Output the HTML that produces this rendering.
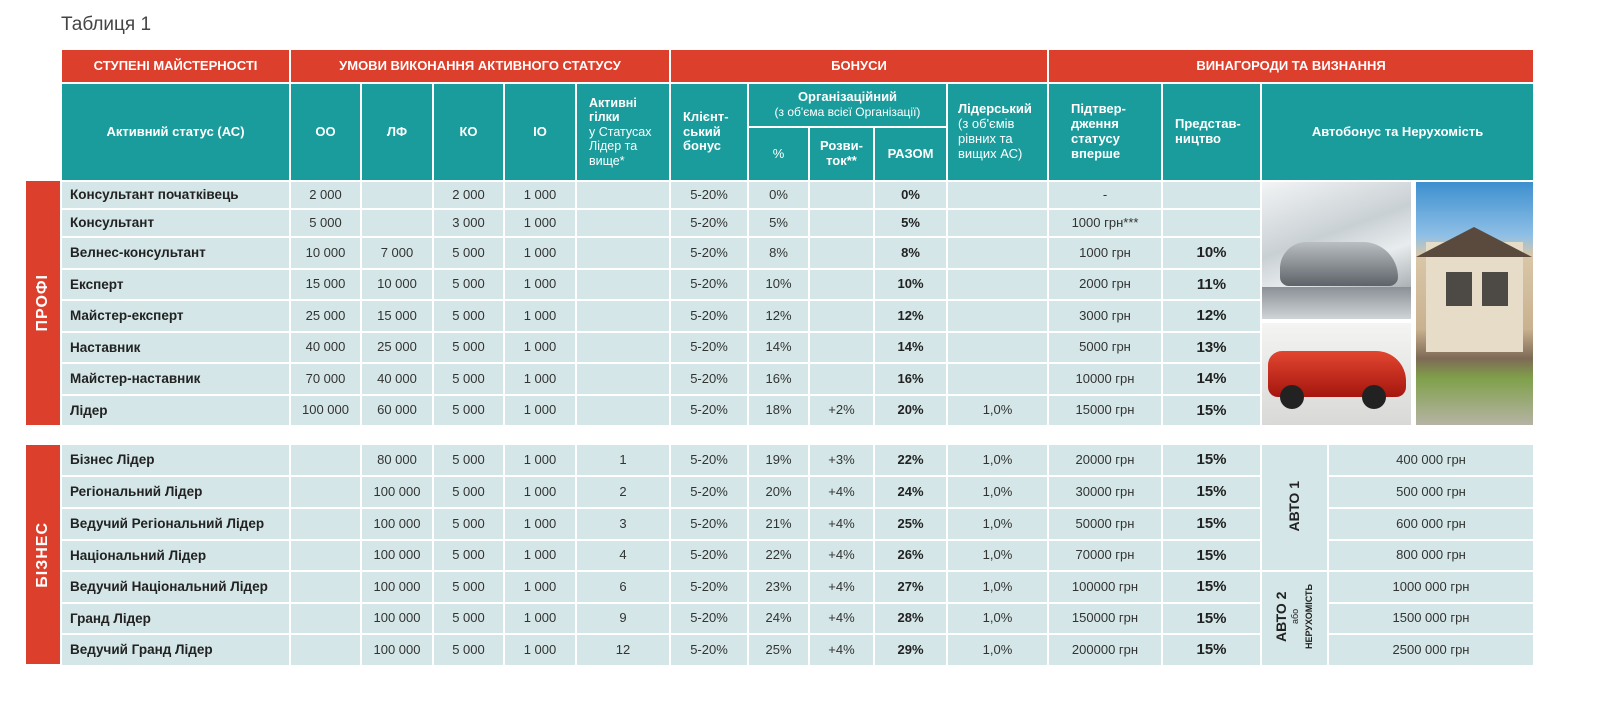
<!DOCTYPE html>
<html><head><meta charset="utf-8"><style>
body{margin:0;width:1600px;height:721px;background:#fff;position:relative;overflow:hidden;font-family:"Liberation Sans","DejaVu Sans",sans-serif;}
.t{position:absolute;left:60px;width:1475px;table-layout:fixed;border-collapse:separate;border-spacing:2px;}
.t td{padding:0;text-align:center;vertical-align:middle;font-size:13px;color:#333;background:#d4e6e7;overflow:hidden;line-height:1.15}
.t td.r{background:#dc3f2b;color:#fff;font-weight:bold;font-size:13px}
.t td.h{background:#1a9c9c;color:#fff;font-weight:bold;font-size:13px}
.t td.n{text-align:left;padding-left:8px;font-weight:bold;color:#222;font-size:13.5px}
.t td.b{font-weight:bold;color:#222}
.t td.p{font-weight:bold;color:#222;font-size:15px}
.t td.w{background:#fff}
.h .l{font-weight:normal}
.side{position:absolute;left:26px;width:34px;background:#dc3f2b;color:#fff;font-weight:bold;font-size:16px;letter-spacing:1px;display:flex;align-items:center;justify-content:center}
.v{writing-mode:vertical-rl;transform:rotate(180deg);display:inline-block}
</style></head><body>
<div style="position:absolute;left:61px;top:14px;font-size:19px;color:#444">Таблиця 1</div>
<div class="side" style="top:181px;height:244px"><span class="v">ПРОФІ</span></div>
<div class="side" style="top:445px;height:219px"><span class="v">БІЗНЕС</span></div>

<table class="t" style="top:48px">
<colgroup><col style="width:227px"><col style="width:69px"><col style="width:70px"><col style="width:69px"><col style="width:70px"><col style="width:92px"><col style="width:76px"><col style="width:59px"><col style="width:63px"><col style="width:71px"><col style="width:99px"><col style="width:112px"><col style="width:97px"><col style="width:65px"><col style="width:204px"></colgroup>
<tr style="height:32px"><td class="r">СТУПЕНІ МАЙСТЕРНОСТІ</td><td class="r" colspan="5">УМОВИ ВИКОНАННЯ АКТИВНОГО СТАТУСУ</td><td class="r" colspan="5">БОНУСИ</td><td class="r" colspan="4">ВИНАГОРОДИ ТА ВИЗНАННЯ</td></tr>
<tr style="height:42px"><td class="h" rowspan="2">Активний статус (АС)</td><td class="h" rowspan="2">ОО</td><td class="h" rowspan="2">ЛФ</td><td class="h" rowspan="2">КО</td><td class="h" rowspan="2">ІО</td>
<td class="h" rowspan="2" style="text-align:left;padding-left:12px;font-size:12.5px">Активні<br>гілки<br><span class="l">у Статусах<br>Лідер та<br>вище*</span></td>
<td class="h" rowspan="2" style="text-align:left;padding-left:12px">Клієнт-<br>ський<br>бонус</td>
<td class="h" colspan="3">Організаційний<br><span class="l" style="font-size:12px">(з об'єма всієї Організації)</span></td>
<td class="h" rowspan="2" style="text-align:left;padding-left:10px;vertical-align:top;padding-top:18px">Лідерський<br><span class="l">(з об'ємів<br>рівних та<br>вищих АС)</span></td>
<td class="h" rowspan="2" style="text-align:left;padding-left:22px">Підтвер-<br>дження<br>статусу<br>вперше</td>
<td class="h" rowspan="2" style="text-align:left;padding-left:12px">Представ-<br>ництво</td>
<td class="h" rowspan="2" colspan="2">Автобонус та Нерухомість</td></tr>
<tr style="height:52px"><td class="h l" style="font-weight:normal">%</td><td class="h">Розви-<br>ток**</td><td class="h">РАЗОМ</td></tr>
<tr style="height:26px"><td class="n">Консультант початківець</td><td>2 000</td><td></td><td>2 000</td><td>1 000</td><td></td><td>5-20%</td><td>0%</td><td></td><td class="b">0%</td><td></td><td>-</td><td></td>
<td colspan="2" rowspan="8" class="w" style="position:relative">
<div style="position:absolute;left:0;top:0;width:149px;height:137px;background:linear-gradient(160deg,#f2f4f5 0%,#c9d0d4 40%,#e8ecee 60%,#7d858a 100%)"><div style="position:absolute;left:18px;top:60px;width:118px;height:44px;border-radius:30px 40px 10px 10px;background:linear-gradient(#b9bec2,#5d6368)"></div><div style="position:absolute;left:0;top:105px;width:149px;height:32px;background:linear-gradient(#8a9196,#cfd4d7)"></div></div>
<div style="position:absolute;left:0;top:141px;width:149px;height:104px;background:linear-gradient(#f4f4f2,#d8d8d6)"><div style="position:absolute;left:6px;top:28px;width:138px;height:46px;border-radius:14px 30px 10px 10px;background:linear-gradient(#e24630,#a5160e)"></div><div style="position:absolute;left:18px;top:62px;width:24px;height:24px;border-radius:50%;background:#222"></div><div style="position:absolute;left:100px;top:62px;width:24px;height:24px;border-radius:50%;background:#222"></div></div>
<div style="position:absolute;left:154px;top:0;width:117px;height:245px;background:linear-gradient(#3d8fcf 0%,#8fc0e6 22%,#d9c7a8 30%,#c9b18f 60%,#7e6a56 72%,#7fa04a 80%,#b8b4a8 100%)"><div style="position:absolute;left:10px;top:60px;width:97px;height:110px;background:#e6dcc8"></div><div style="position:absolute;left:30px;top:90px;width:26px;height:34px;background:#4d4a45"></div><div style="position:absolute;left:66px;top:90px;width:26px;height:34px;background:#4d4a45"></div><div style="position:absolute;left:0;top:45px;width:0;height:0;border-left:58px solid transparent;border-right:58px solid transparent;border-bottom:30px solid #5a4a3e"></div></div>
</td></tr>
<tr style="height:26px"><td class="n">Консультант</td><td>5 000</td><td></td><td>3 000</td><td>1 000</td><td></td><td>5-20%</td><td>5%</td><td></td><td class="b">5%</td><td></td><td>1000 грн***</td><td></td></tr>
<tr style="height:30px"><td class="n">Велнес-консультант</td><td>10 000</td><td>7 000</td><td>5 000</td><td>1 000</td><td></td><td>5-20%</td><td>8%</td><td></td><td class="b">8%</td><td></td><td>1000 грн</td><td class="p">10%</td></tr>
<tr style="height:29px"><td class="n">Експерт</td><td>15 000</td><td>10 000</td><td>5 000</td><td>1 000</td><td></td><td>5-20%</td><td>10%</td><td></td><td class="b">10%</td><td></td><td>2000 грн</td><td class="p">11%</td></tr>
<tr style="height:30px"><td class="n">Майстер-експерт</td><td>25 000</td><td>15 000</td><td>5 000</td><td>1 000</td><td></td><td>5-20%</td><td>12%</td><td></td><td class="b">12%</td><td></td><td>3000 грн</td><td class="p">12%</td></tr>
<tr style="height:29px"><td class="n">Наставник</td><td>40 000</td><td>25 000</td><td>5 000</td><td>1 000</td><td></td><td>5-20%</td><td>14%</td><td></td><td class="b">14%</td><td></td><td>5000 грн</td><td class="p">13%</td></tr>
<tr style="height:30px"><td class="n">Майстер-наставник</td><td>70 000</td><td>40 000</td><td>5 000</td><td>1 000</td><td></td><td>5-20%</td><td>16%</td><td></td><td class="b">16%</td><td></td><td>10000 грн</td><td class="p">14%</td></tr>
<tr style="height:29px"><td class="n">Лідер</td><td>100 000</td><td>60 000</td><td>5 000</td><td>1 000</td><td></td><td>5-20%</td><td>18%</td><td>+2%</td><td class="b">20%</td><td>1,0%</td><td>15000 грн</td><td class="p">15%</td></tr>
</table>

<table class="t" style="top:443px">
<colgroup><col style="width:227px"><col style="width:69px"><col style="width:70px"><col style="width:69px"><col style="width:70px"><col style="width:92px"><col style="width:76px"><col style="width:59px"><col style="width:63px"><col style="width:71px"><col style="width:99px"><col style="width:112px"><col style="width:97px"><col style="width:65px"><col style="width:204px"></colgroup>
<tr style="height:30px"><td class="n">Бізнес Лідер</td><td></td><td>80 000</td><td>5 000</td><td>1 000</td><td>1</td><td>5-20%</td><td>19%</td><td>+3%</td><td class="b">22%</td><td>1,0%</td><td>20000 грн</td><td class="p">15%</td><td rowspan="4" class="b" style="font-size:14px"><span class="v">АВТО 1</span></td><td>400 000 грн</td></tr>
<tr style="height:30px"><td class="n">Регіональний Лідер</td><td></td><td>100 000</td><td>5 000</td><td>1 000</td><td>2</td><td>5-20%</td><td>20%</td><td>+4%</td><td class="b">24%</td><td>1,0%</td><td>30000 грн</td><td class="p">15%</td><td>500 000 грн</td></tr>
<tr style="height:30px"><td class="n">Ведучий Регіональний Лідер</td><td></td><td>100 000</td><td>5 000</td><td>1 000</td><td>3</td><td>5-20%</td><td>21%</td><td>+4%</td><td class="b">25%</td><td>1,0%</td><td>50000 грн</td><td class="p">15%</td><td>600 000 грн</td></tr>
<tr style="height:29px"><td class="n">Національний Лідер</td><td></td><td>100 000</td><td>5 000</td><td>1 000</td><td>4</td><td>5-20%</td><td>22%</td><td>+4%</td><td class="b">26%</td><td>1,0%</td><td>70000 грн</td><td class="p">15%</td><td>800 000 грн</td></tr>
<tr style="height:30px"><td class="n">Ведучий Національний Лідер</td><td></td><td>100 000</td><td>5 000</td><td>1 000</td><td>6</td><td>5-20%</td><td>23%</td><td>+4%</td><td class="b">27%</td><td>1,0%</td><td>100000 грн</td><td class="p">15%</td><td rowspan="3" class="b"><span class="v" style="font-size:14px;text-align:center;line-height:1">АВТО 2<br><span style="font-weight:normal;font-size:9px">або</span><br><span style="font-size:9px">НЕРУХОМІСТЬ</span></span></td><td>1000 000 грн</td></tr>
<tr style="height:29px"><td class="n">Гранд Лідер</td><td></td><td>100 000</td><td>5 000</td><td>1 000</td><td>9</td><td>5-20%</td><td>24%</td><td>+4%</td><td class="b">28%</td><td>1,0%</td><td>150000 грн</td><td class="p">15%</td><td>1500 000 грн</td></tr>
<tr style="height:30px"><td class="n">Ведучий Гранд Лідер</td><td></td><td>100 000</td><td>5 000</td><td>1 000</td><td>12</td><td>5-20%</td><td>25%</td><td>+4%</td><td class="b">29%</td><td>1,0%</td><td>200000 грн</td><td class="p">15%</td><td>2500 000 грн</td></tr>
</table>
</body></html>
